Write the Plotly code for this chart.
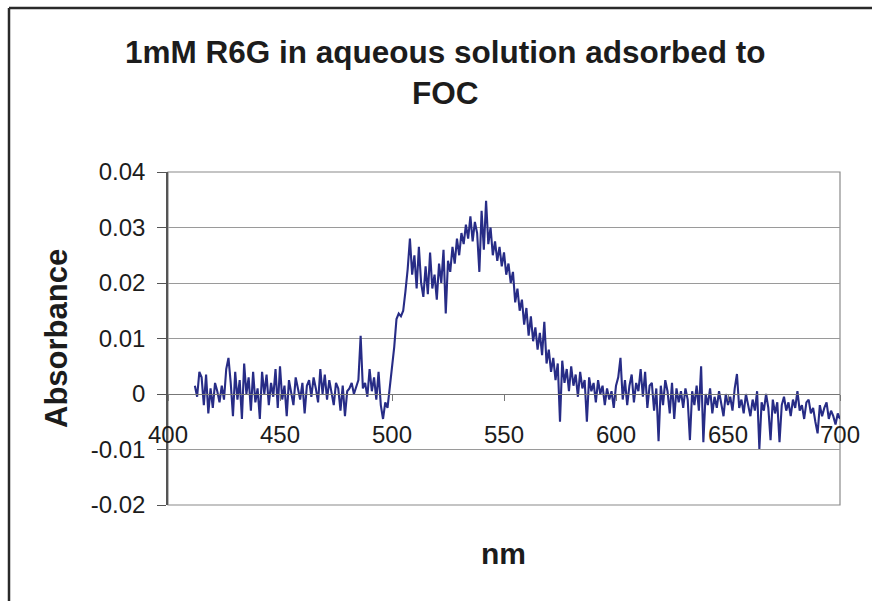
import plotly.graph_objects as go

# ---------------- data ----------------
wavelength_nm = list(range(412, 701))

# absorbance in units of 1e-4, one value per nm from 412 to 700
absorbance_e4_412_500 = [
    15, -5, 40, 30, -20, 35, -35, 10, -25, 20,      # 412-421
    5, -15, 15, -10, 45, 65, 20, -40, 40, -10,      # 422-431
    25, -45, 55, 0, 30, -30, 40, -15, 10, -45,      # 432-441
    40, 0, 35, -20, 20, -5, 45, -25, 50, -10,       # 442-451
    15, -40, 25, 5, -20, 30, 10, -10, 20, -35,      # 452-461
    15, 25, -5, 30, 10, -15, 45, 0, 35, -10,        # 462-471
    25, 5, -20, 20, 10, -30, 15, -40, 5, 10,        # 472-481
    20, 0, 15, 25, 105, 10, 20, -5, 45, 5,          # 482-491
    30, -10, 40, -20, -45, -15, -25, 10, 40,        # 492-500
]
absorbance_e4_501_600 = [
    85, 135, 145, 140, 150, 185, 225, 280, 215, 250,      # 501-510
    190, 265, 200, 175, 230, 180, 255, 190, 215, 170,     # 511-520
    235, 200, 260, 145, 240, 220, 265, 235, 280, 250,     # 521-530
    290, 270, 305, 280, 320, 275, 310, 290, 220, 330,     # 531-540
    260, 348, 270, 300, 250, 275, 240, 265, 230, 255,     # 541-550
    215, 235, 200, 220, 165, 190, 150, 170, 125, 155,     # 551-560
    105, 140, 95, 120, 80, 110, 70, 130, 55, 80,          # 561-570
    40, 65, 25, 55, -50, 60, 20, 45, 5, 50,               # 571-580
    15, 35, -5, 40, 10, 25, -50, 30, 5, 20,               # 581-590
    -15, 25, 0, 15, -20, 10, -10, 5, -25, 15,             # 591-600
]
absorbance_e4_601_700 = [
    30, 65, -10, 25, -20, 15, 35, -15, 20, 5,             # 601-610
    45, -5, 40, -25, 15, 20, -30, 10, -85, 15,            # 611-620
    -20, 25, 5, -35, 20, -45, 10, -15, 5, -25,            # 621-630
    10, -10, -83, 5, -20, 15, -30, 50, -87, 0,            # 631-640
    -20, 10, -35, -5, -25, 5, -15, -40, 0, -20,           # 641-650
    -5, -30, 10, 36, -25, -10, -35, 0, -20, -40,          # 651-660
    -10, -30, 5, -99, -15, -30, 0, -25, -83, -10,         # 661-670
    -35, -15, -87, -20, -5, -30, -15, -40, -10, -25,      # 671-680
    5, -30, -20, -45, -15, -10, -35, -25, -50, -71,       # 681-690
    -20, -40, -25, -15, -45, -30, -40, -55, -35, -45,     # 691-700
]
absorbance = [v * 1e-4 for v in
              absorbance_e4_412_500 + absorbance_e4_501_600 + absorbance_e4_601_700]

y_tick_values = [0.04, 0.03, 0.02, 0.01, 0, -0.01, -0.02]
y_tick_labels = ["0.04", "0.03", "0.02", "0.01", "0", "-0.01", "-0.02"]
x_tick_values = [400, 450, 500, 550, 600, 650, 700]
x_tick_labels = ["400", "450", "500", "550", "600", "650", "700"]

title_line1 = "1mM R6G in aqueous solution adsorbed to"
title_line2 = "FOC"
x_title = "nm"
y_title = "Absorbance"

# ---------------- layout geometry (pixels) ----------------
W, H = 872, 601
L, R, T, B = 168, 32, 172, 96
PW, PH = W - L - R, H - T - B


def px(x):
    return (x - L) / PW


def py(y):
    return (H - B - y) / PH


FONT = "Liberation Sans, Arial, sans-serif"
TXT = "#1c1c1c"

fig = go.Figure()
fig.add_trace(go.Scatter(
    x=wavelength_nm, y=absorbance, mode="lines",
    line=dict(color="#272c86", width=2.1),
    showlegend=False, hoverinfo="x+y",
))

fig.update_layout(
    width=W, height=H,
    margin=dict(l=L, r=R, t=T, b=B, pad=0),
    paper_bgcolor="white", plot_bgcolor="white",
    font=dict(family=FONT, color=TXT),
    xaxis=dict(
        range=[400, 700], tickvals=x_tick_values, ticktext=x_tick_labels,
        anchor="free", position=1 / 3,
        showgrid=False, zeroline=False,
        showline=True, linecolor="#777777", linewidth=1,
        ticks="outside", ticklen=6, tickcolor="#777777",
        tickfont=dict(size=24, color=TXT, family=FONT),
        ticklabelstandoff=13,
    ),
    yaxis=dict(
        range=[-0.02, 0.04], tickvals=y_tick_values, ticktext=y_tick_labels,
        showgrid=True, gridcolor="#9a9a9a", gridwidth=1,
        zeroline=False,
        showline=True, linecolor="#555555", linewidth=1.5,
        ticks="outside", ticklen=9, tickcolor="#555555",
        tickfont=dict(size=24, color=TXT, family=FONT),
        ticklabelstandoff=7,
    ),
    shapes=[
        # plot-area frame
        dict(type="rect", xref="paper", yref="paper", x0=0, y0=0, x1=1, y1=1,
             line=dict(color="#8a8a8a", width=1.2), layer="below"),
        # outer chart frame (top and left visible)
        dict(type="line", xref="paper", yref="paper",
             x0=px(9), y0=py(8), x1=px(W + 2), y1=py(8),
             line=dict(color="#2a2a2a", width=2.5)),
        dict(type="line", xref="paper", yref="paper",
             x0=px(9), y0=py(8), x1=px(9), y1=py(H + 2),
             line=dict(color="#2a2a2a", width=2.5)),
    ],
    annotations=[
        dict(text=f"<b>{title_line1}</b>", xref="paper", yref="paper",
             x=px(445), y=py(52), xanchor="center", yanchor="middle",
             showarrow=False, font=dict(size=31.5, color=TXT, family=FONT)),
        dict(text=f"<b>{title_line2}</b>", xref="paper", yref="paper",
             x=px(445), y=py(93), xanchor="center", yanchor="middle",
             showarrow=False, font=dict(size=31.5, color=TXT, family=FONT)),
        dict(text=f"<b>{x_title}</b>", xref="paper", yref="paper",
             x=px(503), y=py(553), xanchor="center", yanchor="middle",
             showarrow=False, font=dict(size=30, color=TXT, family=FONT)),
        dict(text=f"<b>{y_title}</b>", xref="paper", yref="paper",
             x=px(56), y=py(339), xanchor="center", yanchor="middle",
             textangle=-90,
             showarrow=False, font=dict(size=31, color=TXT, family=FONT)),
    ],
)

fig.write_html("out.html")
